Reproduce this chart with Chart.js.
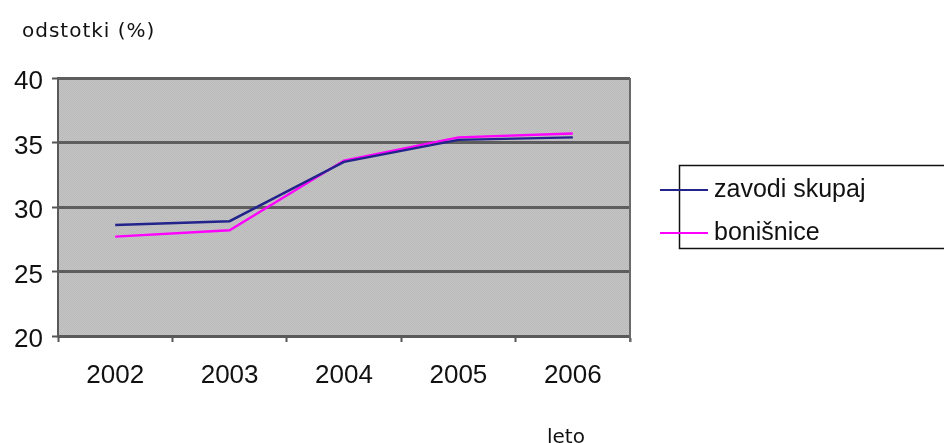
<!DOCTYPE html>
<html>
<head>
<meta charset="utf-8">
<script src="https://cdn.jsdelivr.net/npm/chart.js@4/dist/chart.umd.min.js"></script>
<style>
  html, body { margin: 0; padding: 0; background: #ffffff; }
  #wrap { width: 944px; height: 443px; }
</style>
</head>
<body>
<div id="wrap"><canvas id="c" width="944" height="443"></canvas></div>
<script>
// Years on the horizontal axis
const years = ['2002', '2003', '2004', '2005', '2006'];
// Shares in percent per year
const zavodiSkupaj = [28.6, 28.9, 33.5, 35.2, 35.4];
const bonisnice = [27.7, 28.2, 33.6, 35.4, 35.7];
// Series names shown in the legend
const seriesNames = ['zavodi skupaj', 'bonišnice'];
const seriesColors = ['#23238c', '#ff00ff'];
// Value axis
const yMin = 20, yMax = 40, yStep = 5;
const yTitle = 'odstotki (%)';
const xTitle = 'leto';

// Fine dithered grey used for the plot background
function ditherPattern(ctx) {
  const p = document.createElement('canvas');
  p.width = 2; p.height = 2;
  const pc = p.getContext('2d');
  pc.fillStyle = '#c5c5c5'; pc.fillRect(0, 0, 2, 2);
  pc.fillStyle = '#b9b9b9'; pc.fillRect(0, 0, 1, 1); pc.fillRect(1, 1, 1, 1);
  return ctx.createPattern(p, 'repeat');
}

const plotFrame = {
  id: 'plotFrame',
  beforeDraw(chart) {
    const { ctx, chartArea: a } = chart;
    ctx.save();
    ctx.fillStyle = ditherPattern(ctx);
    ctx.fillRect(a.left, a.top, a.right - a.left, a.bottom - a.top);
    ctx.restore();
  },
  afterDatasetsDraw(chart) {
    const { ctx, chartArea: a } = chart;
    ctx.save();
    // right edge of the plot
    ctx.strokeStyle = '#6a6a6a';
    ctx.lineWidth = 2;
    ctx.beginPath();
    ctx.moveTo(a.right, a.top);
    ctx.lineTo(a.right, a.bottom + 6);
    ctx.stroke();

    // axis titles
    ctx.fillStyle = '#111111';
    ctx.font = '20px "DejaVu Sans"';
    ctx.textAlign = 'left';
    ctx.textBaseline = 'alphabetic';
    ctx.letterSpacing = '1px';
    ctx.fillText(yTitle, 22, 37);
    ctx.letterSpacing = '0px';
    ctx.fillText(xTitle, 547, 443);

    // legend box
    ctx.strokeStyle = '#111111';
    ctx.lineWidth = 1.5;
    ctx.strokeRect(679.5, 165.5, 280, 83);
    ctx.font = '25px "Liberation Sans"';
    ctx.textBaseline = 'middle';
    const rowsY = [190, 233];
    chart.data.datasets.forEach((ds, i) => {
      ctx.strokeStyle = ds.borderColor;
      ctx.lineWidth = 2;
      ctx.beginPath();
      ctx.moveTo(660, rowsY[i]);
      ctx.lineTo(708, rowsY[i]);
      ctx.stroke();
      ctx.fillStyle = '#111111';
      ctx.fillText(ds.label, 714, rowsY[i]);
    });
    ctx.restore();
  }
};

new Chart(document.getElementById('c'), {
  type: 'line',
  data: {
    labels: years,
    datasets: [
      { label: seriesNames[0], data: zavodiSkupaj, borderColor: seriesColors[0], borderWidth: 2.4, pointRadius: 0, tension: 0 },
      { label: seriesNames[1], data: bonisnice, borderColor: seriesColors[1], borderWidth: 2.4, pointRadius: 0, tension: 0 }
    ]
  },
  options: {
    responsive: false,
    animation: false,
    events: [],
    layout: { padding: { left: 0, top: 78, right: 314, bottom: 0 } },
    plugins: { legend: { display: false }, tooltip: { enabled: false }, title: { display: false } },
    scales: {
      x: {
        type: 'category',
        offset: true,
        afterFit(scale) { scale.height = 107; },
        grid: { offset: true, drawOnChartArea: false, drawTicks: true, tickLength: 6, tickColor: '#555555', tickWidth: 2 },
        border: { display: true, color: '#5a5a5a', width: 3 },
        ticks: { color: '#111111', font: { family: 'Liberation Sans', size: 26 }, padding: 18, maxRotation: 0 }
      },
      y: {
        min: yMin, max: yMax,
        afterFit(scale) { scale.width = 58; },
        grid: { color: '#5e5e5e', lineWidth: 3, drawTicks: true, tickLength: 6, tickColor: '#555555', tickWidth: 2 },
        border: { display: true, color: '#5a5a5a', width: 2 },
        ticks: { stepSize: yStep, color: '#111111', font: { family: 'Liberation Sans', size: 26 }, padding: 9, labelOffset: 4 }
      }
    }
  },
  plugins: [plotFrame]
});
</script>
</body>
</html>
